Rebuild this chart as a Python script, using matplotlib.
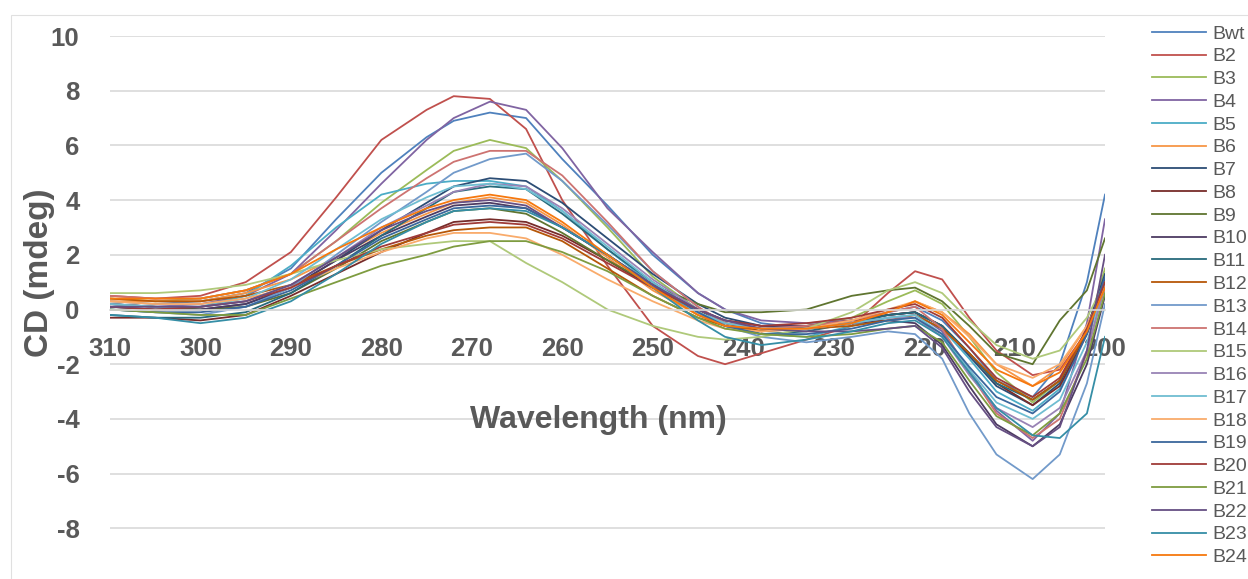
# CD spectra of the B-series variants, Excel-style line chart
import matplotlib.pyplot as plt
from matplotlib.patches import Rectangle
from matplotlib.ticker import MultipleLocator, FixedLocator

plt.rcParams["axes.unicode_minus"] = False

# wavelengths (nm)
wavelength = [310, 305, 300, 295, 290, 285, 280, 275, 272, 268, 264, 260, 255, 250,
              245, 242, 238, 233, 228, 224, 221, 218, 215, 212, 208, 205, 202, 200]

# CD signal (mdeg) per sample
bwt = [0.3, 0.2, 0.3, 0.6, 1.5, 3.3, 5.0, 6.3, 6.9, 7.2, 7.0, 5.5, 3.8, 2.0, 0.6, 0.0, -0.5, -0.7, -0.4, -0.1, 0.1, -0.4, -1.4, -2.6, -3.2, -2.0, 1.0, 4.2]
b2 = [0.5, 0.4, 0.5, 1.0, 2.1, 4.1, 6.2, 7.3, 7.8, 7.7, 6.6, 4.0, 1.6, -0.6, -1.7, -2.0, -1.6, -1.1, -0.6, 0.6, 1.4, 1.1, -0.3, -1.5, -2.4, -2.2, -0.8, 1.2]
b3 = [0.4, 0.3, 0.4, 0.7, 1.3, 2.5, 3.9, 5.1, 5.8, 6.2, 5.9, 4.7, 3.0, 1.2, 0.0, -0.5, -0.8, -0.6, -0.3, 0.3, 0.7, 0.2, -1.0, -2.3, -3.4, -2.6, -0.8, 1.5]
b4 = [0.2, 0.1, 0.2, 0.5, 1.3, 2.9, 4.6, 6.2, 7.0, 7.6, 7.3, 5.9, 3.7, 2.1, 0.6, 0.0, -0.4, -0.5, -0.4, -0.2, -0.1, -0.8, -2.2, -3.7, -4.8, -3.8, -0.5, 3.3]
b5 = [0.1, 0.0, 0.1, 0.5, 1.6, 3.0, 4.2, 4.6, 4.7, 4.7, 4.5, 3.6, 2.2, 0.9, -0.2, -0.6, -0.9, -1.0, -0.6, -0.3, -0.2, -0.7, -1.8, -3.0, -3.7, -2.9, -0.8, 1.2]
b6 = [0.3, 0.3, 0.3, 0.6, 1.1, 1.9, 2.8, 3.5, 3.9, 4.1, 3.9, 3.1, 1.9, 0.7, -0.2, -0.5, -0.7, -0.7, -0.5, -0.1, 0.3, -0.1, -0.9, -2.0, -2.8, -2.1, -0.6, 1.0]
b7 = [0.2, 0.1, 0.0, 0.2, 0.8, 1.8, 2.9, 3.9, 4.5, 4.8, 4.7, 3.9, 2.6, 1.3, 0.2, -0.3, -0.6, -0.7, -0.5, -0.2, -0.1, -0.6, -1.7, -2.8, -3.5, -2.7, -0.7, 1.3]
b8 = [-0.3, -0.3, -0.4, -0.2, 0.5, 1.3, 2.1, 2.8, 3.2, 3.3, 3.2, 2.7, 1.8, 0.8, 0.0, -0.5, -0.8, -0.6, -0.4, -0.2, -0.1, -0.6, -1.6, -2.7, -3.5, -2.8, -0.9, 0.8]
b9 = [0.2, 0.1, 0.0, 0.1, 0.6, 1.5, 2.5, 3.2, 3.6, 3.7, 3.5, 2.8, 1.8, 0.9, 0.2, -0.1, -0.1, 0.0, 0.5, 0.7, 0.8, 0.3, -0.6, -1.6, -2.0, -0.4, 0.7, 2.6]
b10 = [0.1, 0.0, 0.0, 0.2, 0.8, 1.8, 2.7, 3.4, 3.8, 3.9, 3.7, 3.0, 2.0, 0.9, 0.0, -0.4, -0.6, -0.6, -0.5, -0.4, -0.5, -1.3, -2.8, -4.2, -5.0, -4.2, -2.0, 0.5]
b11 = [-0.2, -0.3, -0.3, -0.1, 0.6, 1.6, 2.7, 3.7, 4.3, 4.5, 4.4, 3.5, 2.2, 1.0, -0.1, -0.6, -0.9, -0.8, -0.5, -0.2, -0.1, -0.6, -1.6, -2.7, -3.3, -2.6, -0.8, 1.1]
b12 = [0.4, 0.3, 0.3, 0.5, 0.9, 1.6, 2.2, 2.7, 2.9, 3.0, 3.0, 2.5, 1.5, 0.5, -0.3, -0.6, -0.8, -0.7, -0.6, -0.4, -0.2, -0.7, -1.6, -2.6, -3.3, -2.6, -0.8, 0.9]
b13 = [0.0, -0.1, -0.2, 0.1, 0.8, 2.0, 3.2, 4.3, 5.0, 5.5, 5.7, 4.7, 3.1, 1.4, 0.1, -0.6, -1.0, -1.2, -1.0, -0.8, -0.9, -1.8, -3.8, -5.3, -6.2, -5.3, -2.7, 0.2]
b14 = [0.5, 0.4, 0.4, 0.7, 1.3, 2.5, 3.7, 4.8, 5.4, 5.8, 5.8, 4.9, 3.2, 1.4, 0.1, -0.5, -0.7, -0.6, -0.4, -0.1, 0.1, -0.7, -2.3, -3.8, -4.7, -4.0, -1.6, 1.0]
b15 = [0.6, 0.6, 0.7, 0.9, 1.3, 1.8, 2.2, 2.4, 2.5, 2.5, 1.7, 1.0, 0.0, -0.6, -1.0, -1.1, -1.0, -0.7, -0.1, 0.7, 1.0, 0.6, -0.4, -1.3, -1.8, -1.5, -0.3, 1.0]
b16 = [0.2, 0.1, 0.1, 0.3, 0.9, 1.9, 3.0, 3.8, 4.3, 4.6, 4.5, 3.7, 2.4, 1.1, 0.0, -0.4, -0.7, -0.7, -0.5, -0.3, -0.3, -1.0, -2.4, -3.6, -4.3, -3.6, -1.5, 0.8]
b17 = [0.2, 0.1, 0.1, 0.4, 1.1, 2.2, 3.3, 4.1, 4.5, 4.6, 4.4, 3.6, 2.3, 1.0, -0.1, -0.5, -0.7, -0.7, -0.5, -0.3, -0.2, -0.9, -2.2, -3.4, -4.0, -3.3, -1.2, 1.0]
b18 = [0.3, 0.2, 0.2, 0.4, 0.8, 1.5, 2.1, 2.6, 2.8, 2.8, 2.6, 2.0, 1.1, 0.3, -0.4, -0.7, -0.8, -0.7, -0.4, 0.0, 0.3, -0.1, -1.0, -2.0, -2.5, -2.0, -0.6, 0.8]
b19 = [0.0, -0.1, -0.1, 0.1, 0.7, 1.6, 2.6, 3.3, 3.7, 3.8, 3.7, 3.0, 2.0, 0.9, -0.1, -0.6, -0.9, -0.9, -0.7, -0.4, -0.3, -0.9, -2.1, -3.2, -3.8, -3.0, -0.9, 1.2]
b20 = [0.1, 0.0, 0.1, 0.3, 0.8, 1.6, 2.3, 2.8, 3.1, 3.2, 3.1, 2.6, 1.7, 0.8, 0.0, -0.4, -0.6, -0.5, -0.3, 0.0, 0.2, -0.3, -1.4, -2.5, -3.2, -2.5, -0.7, 1.0]
b21 = [0.0, -0.1, -0.2, -0.2, 0.4, 1.0, 1.6, 2.0, 2.3, 2.5, 2.5, 2.1, 1.4, 0.5, -0.3, -0.7, -0.9, -1.0, -0.9, -0.7, -0.6, -1.2, -2.6, -3.9, -4.6, -3.8, -1.8, 0.6]
b22 = [0.1, 0.1, 0.1, 0.3, 0.9, 1.9, 2.9, 3.6, 3.9, 4.0, 3.8, 3.0, 2.0, 0.9, 0.0, -0.4, -0.7, -0.8, -0.8, -0.7, -0.6, -1.4, -3.0, -4.3, -5.0, -4.3, -1.5, 2.0]
b23 = [-0.2, -0.3, -0.5, -0.3, 0.3, 1.3, 2.4, 3.2, 3.6, 3.7, 3.6, 3.0, 2.0, 0.8, -0.4, -1.0, -1.3, -1.1, -0.8, -0.5, -0.4, -1.0, -2.3, -3.6, -4.6, -4.7, -3.8, -1.0]
b24 = [0.4, 0.4, 0.4, 0.7, 1.3, 2.2, 3.0, 3.7, 4.0, 4.2, 4.0, 3.2, 2.0, 0.8, -0.2, -0.6, -0.7, -0.7, -0.5, -0.1, 0.3, -0.2, -1.2, -2.2, -2.8, -2.3, -0.8, 0.8]

labels = ["Bwt"] + ["B%d" % i for i in range(2, 25)]
series = [bwt, b2, b3, b4, b5, b6, b7, b8, b9, b10, b11, b12,
          b13, b14, b15, b16, b17, b18, b19, b20, b21, b22, b23, b24]
y_ticks = [-8, -6, -4, -2, 0, 2, 4, 6, 8, 10]

# Excel 2010 default palette (base, darker, lighter, darker again)
colors = ["#4F81BD", "#C0504D", "#9BBB59", "#8064A2", "#4BACC6", "#F79646",
          "#2C4D75", "#772C2A", "#5F7530", "#4D3B62", "#276A7C", "#B65708",
          "#729ACA", "#CD7371", "#AFC97A", "#9983B5", "#6FBDD1", "#F9AB6B",
          "#3A679C", "#9F3B38", "#7E9C40", "#664F83", "#358EA6", "#F6780E"]

grey = "#595959"
grid = "#d9d9d9"

fig = plt.figure(figsize=(12.48, 5.79), dpi=100)
ax = fig.add_axes([110 / 1248, 1 - 583 / 579, 995 / 1248, 547 / 579])

for vals, lab, col in zip(series, labels, colors):
    ax.plot(wavelength, vals, color=col, lw=1.3, label=lab)

ax.set_xlim(310, 200)
ax.set_ylim(-10, 10)
ax.set_yticks(y_ticks)
ax.xaxis.set_major_locator(MultipleLocator(10))
ax.xaxis.set_minor_locator(FixedLocator([290, 270, 250, 230, 210]))
ax.grid(axis="y", color=grid, lw=1.2)
ax.set_axisbelow(True)

for s in ["top", "right", "left"]:
    ax.spines[s].set_visible(False)
ax.spines["bottom"].set_position(("data", 0))
ax.spines["bottom"].set_color(grid)
ax.spines["bottom"].set_linewidth(1.2)

ax.tick_params(axis="x", which="major", length=0, pad=20, labelsize=18.5, labelcolor=grey)
ax.tick_params(axis="x", which="minor", length=6, width=1.2, color=grid, direction="out")
ax.tick_params(axis="y", length=0, pad=22, labelsize=18.5, labelcolor=grey)
for t in ax.get_xticklabels() + ax.get_yticklabels():
    t.set_fontweight("bold")
    t.set_fontfamily("Liberation Sans")

fig.text(598 / 1248, 1 - 420 / 579, "Wavelength (nm)", ha="center", va="center",
         fontsize=23, fontweight="bold", color=grey, family="Liberation Sans")
fig.text(40 / 1248, 1 - 273 / 579, "CD (mdeg)", ha="center", va="center", rotation=90,
         fontsize=24, fontweight="bold", color=grey, family="Liberation Sans")

fig.legend(loc="upper left", bbox_to_anchor=(1152 / 1248, 1 - 25 / 579), frameon=False,
           prop={"family": "Liberation Sans", "size": 14}, labelcolor=grey,
           handlelength=2.8, handletextpad=0.3, labelspacing=0.265, borderpad=0,
           borderaxespad=0)

# thin frame around the chart area
fig.add_artist(Rectangle((11 / 1248, -0.1), 1.2, 0.1 + 1 - 15 / 579, transform=fig.transFigure,
                         fill=False, ec="#e0e0e0", lw=0.8))

fig.savefig("out.png", dpi=100)
